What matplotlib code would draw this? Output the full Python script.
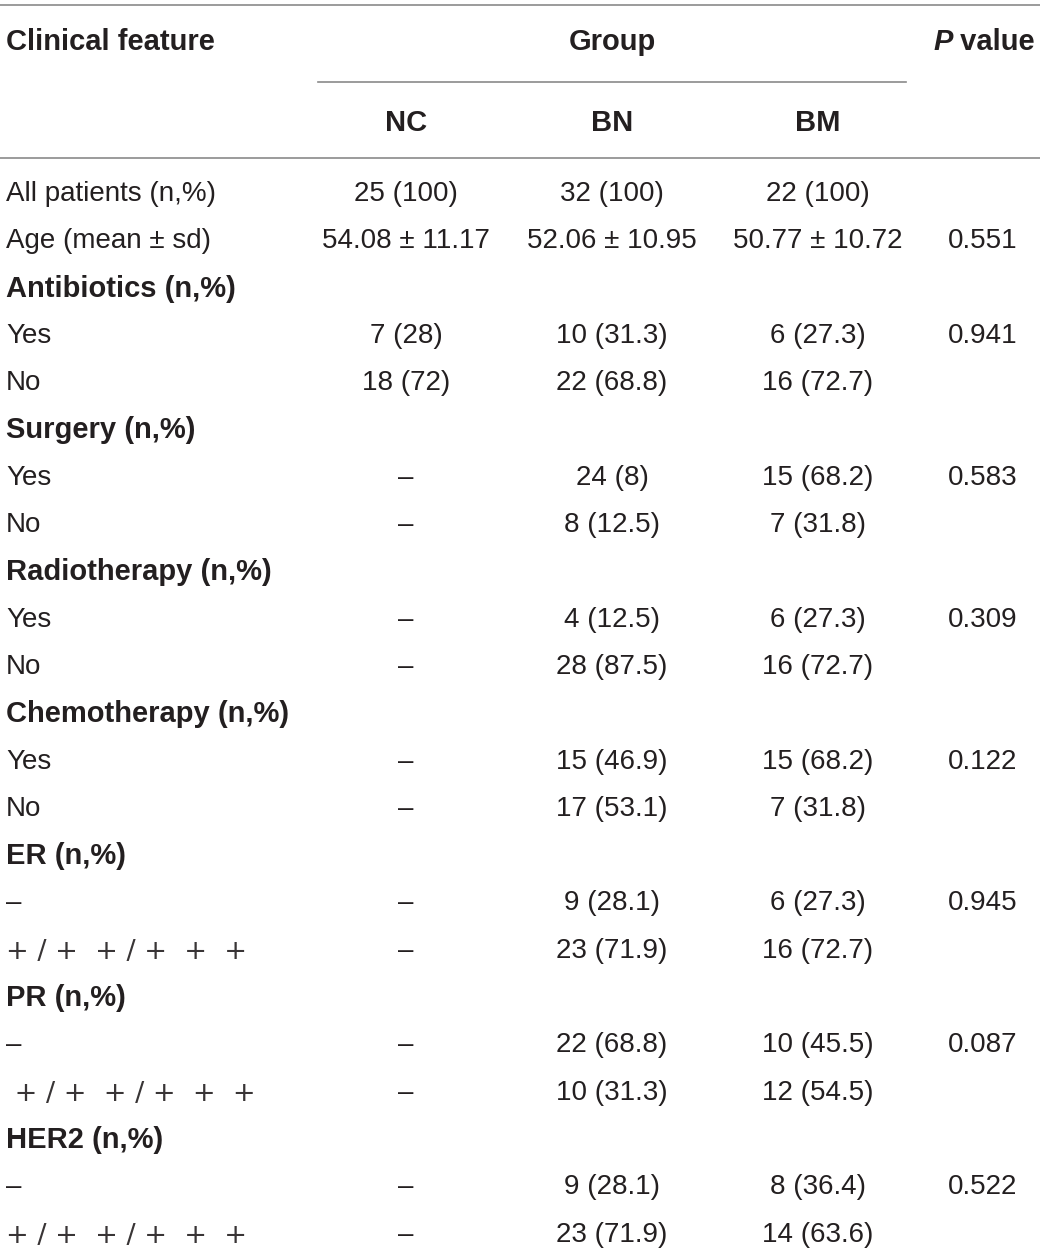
import matplotlib
matplotlib.use("Agg")
import matplotlib.pyplot as plt

plt.rcParams['font.family'] = ['Liberation Sans', 'DejaVu Sans']

# table content
row_labels = ["All patients (n,%)", "Age (mean ± sd)", "Antibiotics (n,%)", "Yes", "No",
              "Surgery (n,%)", "Yes", "No", "Radiotherapy (n,%)", "Yes", "No",
              "Chemotherapy (n,%)", "Yes", "No", "ER (n,%)", "–", "+ / +  + / +  +  +",
              "PR (n,%)", "–", " + / +  + / +  +  +", "HER2 (n,%)", "–", "+ / +  + / +  +  +"]
is_header = [False, False, True, False, False, True, False, False, True, False, False,
             True, False, False, True, False, False, True, False, False, True, False, False]
nc_vals = ["25 (100)", "54.08 ± 11.17", "", "7 (28)", "18 (72)", "", "–", "–", "", "–", "–",
           "", "–", "–", "", "–", "–", "", "–", "–", "", "–", "–"]
bn_vals = ["32 (100)", "52.06 ± 10.95", "", "10 (31.3)", "22 (68.8)", "", "24 (8)", "8 (12.5)",
           "", "4 (12.5)", "28 (87.5)", "", "15 (46.9)", "17 (53.1)", "", "9 (28.1)", "23 (71.9)",
           "", "22 (68.8)", "10 (31.3)", "", "9 (28.1)", "23 (71.9)"]
bm_vals = ["22 (100)", "50.77 ± 10.72", "", "6 (27.3)", "16 (72.7)", "", "15 (68.2)", "7 (31.8)",
           "", "6 (27.3)", "16 (72.7)", "", "15 (68.2)", "7 (31.8)", "", "6 (27.3)", "16 (72.7)",
           "", "10 (45.5)", "12 (54.5)", "", "8 (36.4)", "14 (63.6)"]
p_vals = ["", "0.551", "", "0.941", "", "", "0.583", "", "", "0.309", "", "", "0.122", "",
          "", "0.945", "", "", "0.087", "", "", "0.522", ""]
groups = ["NC", "BN", "BM"]

W, H = 1040, 1256
fig = plt.figure(figsize=(W / 100, H / 100), dpi=100)
ax = fig.add_axes([0, 0, 1, 1])
ax.set_xlim(0, W)
ax.set_ylim(H, 0)
ax.axis('off')

txt = '#231f20'
line_c = '#8a8a8a'
fs = 20
fs_b = 21

col_x = [406, 612, 818]
p_x = 983

# rules
ax.plot([0, W], [5, 5], color=line_c, lw=1.2)
ax.plot([318, 906], [82, 82], color=line_c, lw=1.2)
ax.plot([0, W], [158, 158], color=line_c, lw=1.2)

# header
ax.text(6, 42, "Clinical feature", fontsize=fs_b, fontweight='bold', color=txt, va='center', ha='left')
ax.text(612, 42, "Group", fontsize=fs_b, fontweight='bold', color=txt, va='center', ha='center')
tv = ax.text(1035, 42, " value", fontsize=fs_b, fontweight='bold', color=txt, va='center', ha='right')
fig.canvas.draw()
bb = tv.get_window_extent().transformed(ax.transData.inverted())
ax.text(min(bb.x0, bb.x1), 42, "P", fontsize=fs_b, fontweight='bold', fontstyle='italic',
        color=txt, va='center', ha='right')
for gx, g in zip(col_x, groups):
    ax.text(gx, 123, g, fontsize=fs_b, fontweight='bold', color=txt, va='center', ha='center')

y0, dy = 194, 47.3
for i, lab in enumerate(row_labels):
    y = y0 + i * dy
    if is_header[i]:
        ax.text(6, y, lab, fontsize=fs_b, fontweight='bold', color=txt, va='center', ha='left')
    elif '+' in lab:
        # the +/+ labels use thin, wide plus signs
        ax.text(6, y + 1, lab, fontsize=19.5, fontweight='normal', color=txt, va='center', ha='left',
                family='DejaVu Sans', alpha=0.9)
    else:
        ax.text(6, y, lab, fontsize=fs, color=txt, va='center', ha='left')
    for cx, vals in zip(col_x, [nc_vals, bn_vals, bm_vals]):
        if vals[i]:
            ax.text(cx, y, vals[i], fontsize=fs, color=txt, va='center', ha='center')
    if p_vals[i]:
        ax.text(p_x, y, p_vals[i], fontsize=fs, color=txt, va='center', ha='center')

fig.savefig("out.png", dpi=100)
